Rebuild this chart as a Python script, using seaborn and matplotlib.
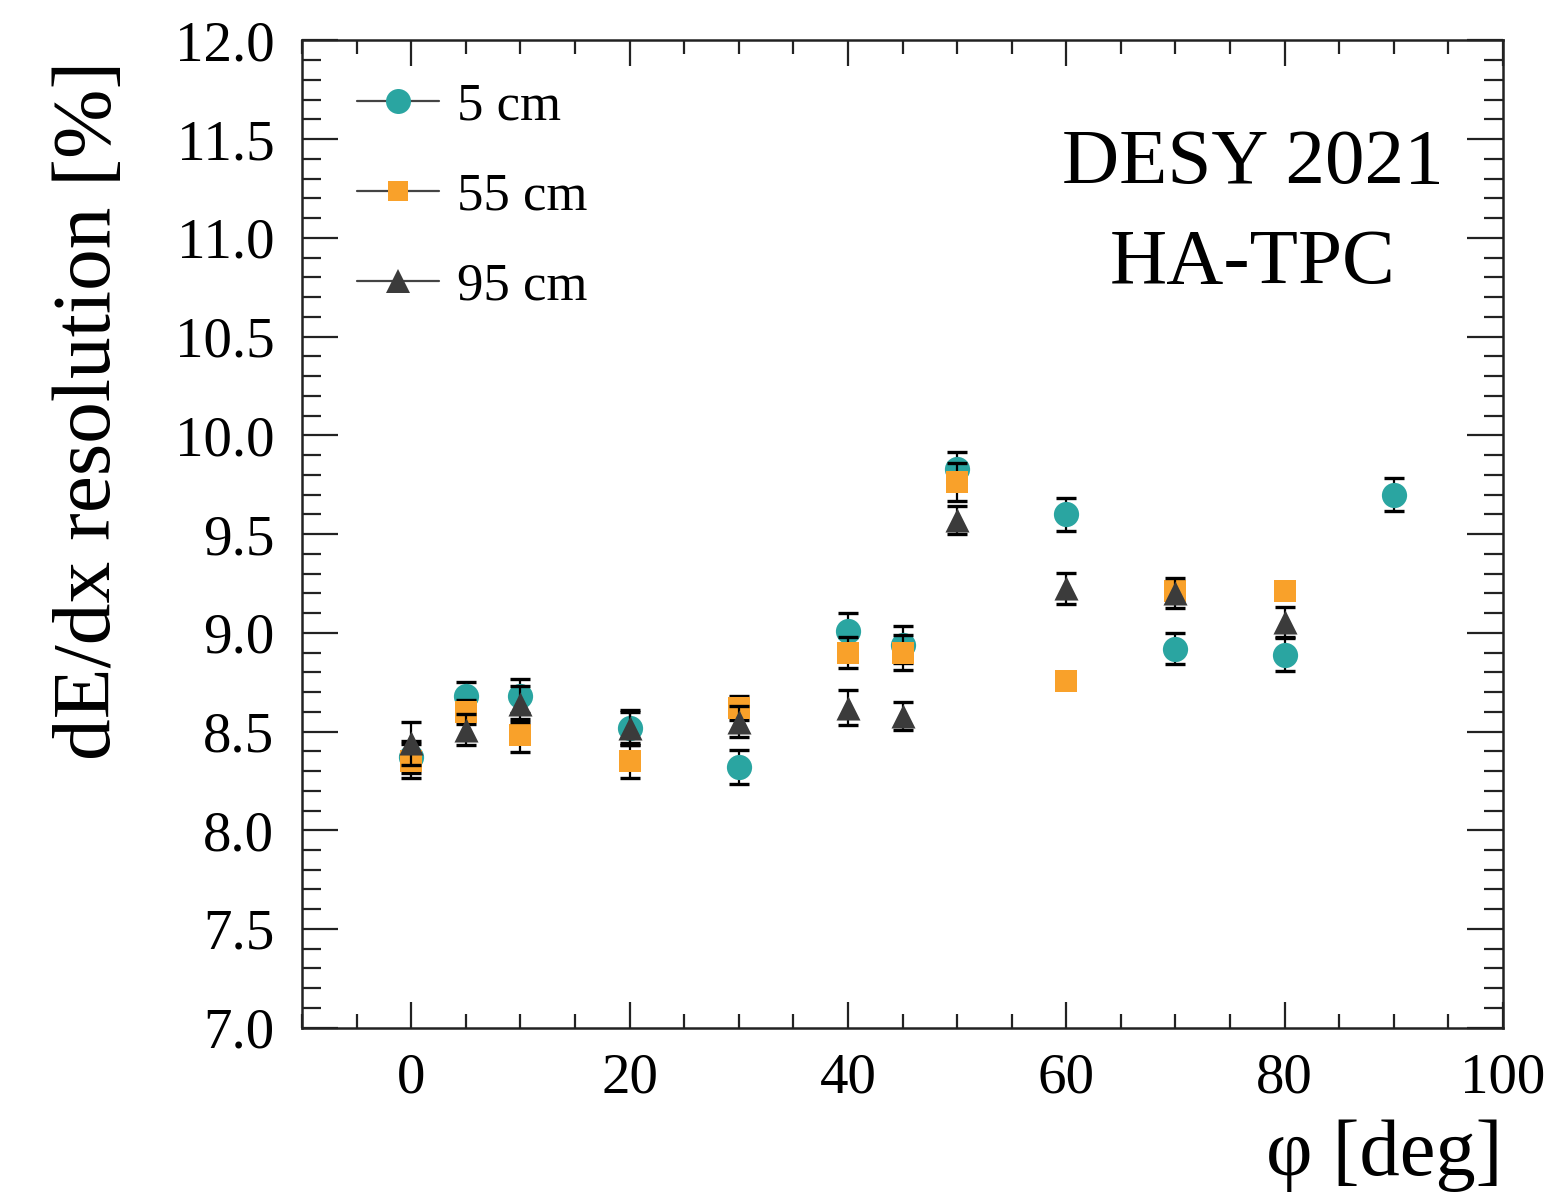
import numpy as np
import pandas as pd
import matplotlib
matplotlib.use("Agg")
import matplotlib.pyplot as plt
from matplotlib.lines import Line2D
from matplotlib.ticker import MultipleLocator, FormatStrFormatter
import seaborn as sns

# dE/dx resolution versus track angle for three drift distances
phi_5 = [0, 5, 10, 20, 30, 40, 45, 50, 60, 70, 80, 90]
res_5 = [8.37, 8.68, 8.68, 8.52, 8.32, 9.01, 8.94, 9.83, 9.60, 8.92, 8.89, 9.70]
err_5 = [0.08, 0.07, 0.085, 0.09, 0.085, 0.09, 0.095, 0.085, 0.085, 0.077, 0.085, 0.085]

phi_55 = [0, 5, 10, 20, 30, 40, 45, 50, 60, 70, 80]
res_55 = [8.35, 8.60, 8.48, 8.35, 8.62, 8.90, 8.90, 9.765, 8.757, 9.21, 9.21]
err_55 = [0.085, 0.06, 0.085, 0.084, 0.06, 0.08, 0.09, 0.095, 0.02, 0.04, 0.04]

phi_95 = [0, 5, 10, 20, 30, 40, 45, 50, 60, 70, 80]
res_95 = [8.44, 8.51, 8.64, 8.52, 8.55, 8.62, 8.58, 9.57, 9.225, 9.20, 9.056]
err_95 = [0.11, 0.08, 0.09, 0.08, 0.078, 0.089, 0.07, 0.07, 0.079, 0.076, 0.076]

labels = ["5 cm", "55 cm", "95 cm"]
colors = ["#2aa5a1", "#f9a12a", "#3b3b3b"]
markers = ["o", "s", "^"]
sizes = [330, 250, 300]

df = pd.concat([
    pd.DataFrame({"phi": phi_5, "res": res_5, "err": err_5, "dist": labels[0]}),
    pd.DataFrame({"phi": phi_55, "res": res_55, "err": err_55, "dist": labels[1]}),
    pd.DataFrame({"phi": phi_95, "res": res_95, "err": err_95, "dist": labels[2]}),
], ignore_index=True)

sns.set_theme(style="ticks")
plt.rcParams["font.family"] = ["Liberation Serif", "DejaVu Serif"]
plt.rcParams["text.color"] = "black"
plt.rcParams["axes.labelcolor"] = "black"
plt.rcParams["xtick.labelcolor"] = "black"
plt.rcParams["ytick.labelcolor"] = "black"

fig = plt.figure(figsize=(15.57, 12.01), dpi=100)
ax = fig.add_axes([0.194, 0.1443, 0.7713, 0.8220])

for i, lab in enumerate(labels):
    sub = df[df["dist"] == lab]
    ax.errorbar(sub["phi"], sub["res"], yerr=sub["err"], fmt="none",
                ecolor="black", elinewidth=1.6, capsize=7, capthick=2.4,
                zorder=2 + 2 * i)
    sns.scatterplot(data=sub, x="phi", y="res", ax=ax, color=colors[i],
                    marker=markers[i], s=sizes[i], linewidth=0,
                    legend=False, zorder=3 + 2 * i)

ax.set_xlim(-10, 100)
ax.set_ylim(7.0, 12.0)
ax.xaxis.set_major_locator(MultipleLocator(20))
ax.xaxis.set_minor_locator(MultipleLocator(5))
ax.yaxis.set_major_locator(MultipleLocator(0.5))
ax.yaxis.set_minor_locator(MultipleLocator(0.1))
ax.yaxis.set_major_formatter(FormatStrFormatter("%.1f"))

ax.tick_params(axis="both", which="both", direction="in", top=True, right=True,
               color="#222222", width=1.6)
ax.tick_params(axis="y", which="major", length=26, labelsize=41, pad=20)
ax.tick_params(axis="y", which="minor", length=14)
ax.tick_params(axis="x", which="major", length=19, labelsize=41, pad=18)
ax.tick_params(axis="x", which="minor", length=10)
for sp in ax.spines.values():
    sp.set_linewidth(1.8)
    sp.set_color("#222222")

ax.set_xlabel("φ [deg]", fontsize=58, ha="right")
ax.xaxis.set_label_coords(1.0, -0.092)
ax.set_ylabel("dE/dx resolution [%]", fontsize=60, ha="right")
ax.yaxis.set_label_coords(-0.145, 0.98)

handles = [Line2D([0], [0], color="#444444", lw=1.6, marker=m, markersize=ms,
                  markerfacecolor=c, markeredgewidth=0, label=lab)
           for lab, c, m, ms in zip(labels, colors, markers, [18, 15, 17])]
ax.legend(handles=handles, loc="upper left", bbox_to_anchor=(0.015, 0.995),
          fontsize=38, frameon=False, handlelength=1.55, handletextpad=0.35,
          labelspacing=0.8, borderpad=0.2)

ax.text(0.7918, 0.8557, "DESY 2021", transform=ax.transAxes,
        ha="center", va="baseline", fontsize=57)
ax.text(0.7918, 0.7544, "HA-TPC", transform=ax.transAxes,
        ha="center", va="baseline", fontsize=57)

fig.savefig("out.png", dpi=100)
